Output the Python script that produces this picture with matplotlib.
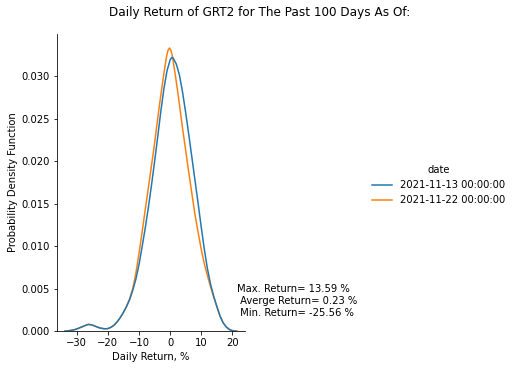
import matplotlib
matplotlib.use("Agg")
import matplotlib.pyplot as plt

# curvas de densidade (retorno diario em %, densidade)
x_1113 = [-33.8, -33, -32, -31, -30, -29, -28, -27, -26.3, -25.5, -24.5, -23.5, -22.5, -21.5,
          -20.8, -20, -19, -18, -17, -16, -15, -14, -13, -12, -11, -10, -9, -8, -7, -6, -5,
          -4, -3, -2, -1, 0, 0.6, 1, 2, 3, 4, 5, 6, 7, 8, 9, 10, 11, 12, 13, 14, 15, 16, 17,
          18, 19, 20, 21.4]
y_1113 = [0.0, 0.00003, 0.00008, 0.00015, 0.00025, 0.0004, 0.00055, 0.0007, 0.00079, 0.00076,
          0.00065, 0.0005, 0.00037, 0.0003, 0.00028, 0.0003, 0.00045, 0.0007, 0.0011, 0.0016,
          0.0022, 0.0029, 0.0037, 0.0048, 0.0061, 0.0078, 0.0099, 0.0121, 0.0145, 0.0171,
          0.0199, 0.0228, 0.0258, 0.0285, 0.0306, 0.0319, 0.0322, 0.0321, 0.0314, 0.0301,
          0.0281, 0.0257, 0.0231, 0.0204, 0.0177, 0.0150, 0.0122, 0.0096, 0.0073, 0.0055,
          0.0041, 0.0029, 0.0018, 0.0010, 0.0005, 0.0002, 0.00006, 0.0]

x_1122 = [-33.8, -33, -32, -31, -30, -29, -28, -27, -26.3, -25.5, -24.5, -23.5, -22.5, -21.5,
          -20.8, -20, -19, -18, -17, -16, -15, -14, -13, -12, -11, -10, -9, -8.1, -7.2, -6.2,
          -5.2, -4.3, -3.2, -2.2, -1.2, -0.7, -0.2, 0.3, 0.8, 1.8, 2.8, 3.9, 4.9, 5.9, 6.9,
          7.9, 9, 10, 11, 12, 13, 14, 15, 16, 17, 18, 19, 20, 21.4]
y_1122 = [0.0, 0.00003, 0.00008, 0.00015, 0.00025, 0.0004, 0.00055, 0.0007, 0.00079, 0.00076,
          0.00065, 0.0005, 0.00037, 0.0003, 0.00028, 0.0003, 0.00045, 0.0007, 0.0011, 0.0016,
          0.0022, 0.0029, 0.0038, 0.0050, 0.0068, 0.0091, 0.0116, 0.0140, 0.0163, 0.0189,
          0.0215, 0.0241, 0.0272, 0.0298, 0.0322, 0.0330, 0.0333, 0.0330, 0.0322, 0.0298,
          0.0272, 0.0241, 0.0215, 0.0189, 0.0164, 0.0139, 0.0116, 0.0096, 0.0079, 0.0065,
          0.0052, 0.0040, 0.0029, 0.0018, 0.0010, 0.0005, 0.0002, 0.00006, 0.0]

labels = ["2021-11-13 00:00:00", "2021-11-22 00:00:00"]
stats_text = "Max. Return= 13.59 %\n Averge Return= 0.23 %\n Min. Return= -25.56 %"

fig = plt.figure(figsize=(514 / 72, 370 / 72), dpi=72)
ax = fig.add_axes([0.111, 0.105, 0.366, 0.803])

# laranja primeiro, azul por cima (como o seaborn faz)
l2, = ax.plot(x_1122, y_1122, color="#ff7f0e", lw=1.5)
l1, = ax.plot(x_1113, y_1113, color="#1f77b4", lw=1.5)

ax.set_xlim(-36.3, 24.1)
ax.set_ylim(0, 0.03494)
ax.set_xticks([-30, -20, -10, 0, 10, 20])
ax.set_yticks([0.0, 0.005, 0.010, 0.015, 0.020, 0.025, 0.030])
ax.yaxis.set_major_formatter(matplotlib.ticker.FormatStrFormatter("%.3f"))
ax.spines["top"].set_visible(False)
ax.spines["right"].set_visible(False)
ax.set_xlabel("Daily Return, %")
ax.set_ylabel("Probability Density Function")

ax.text(21.4, 0.0016, stats_text, fontsize=10, va="bottom", ha="left")

fig.suptitle("Daily Return of GRT2 for The Past 100 Days As Of:", x=0.506, y=0.985, fontsize=12)
fig.legend([l1, l2], labels, title="date", loc="center right",
           bbox_to_anchor=(1.0, 0.5), frameon=False)

fig.savefig("out.png", dpi=72, facecolor="white")
